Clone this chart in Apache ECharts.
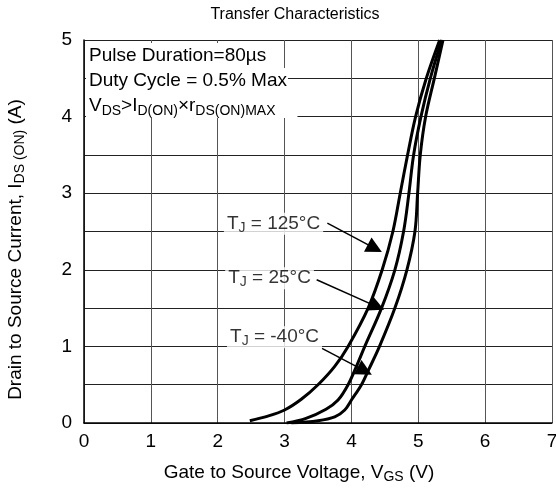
<!DOCTYPE html>
<html><head><meta charset="utf-8">
<script src="https://cdn.jsdelivr.net/npm/echarts@6/dist/echarts.min.js"></script>
<style>html,body{margin:0;padding:0;background:#fff}#c{width:556px;height:491px}</style>
</head><body><div id="c"></div>
<script>
// ---- data ----
const xTicks = [0, 1, 2, 3, 4, 5, 6, 7];
const yTicks = [0, 1, 2, 3, 4, 5];
const tj125 = [[2.48,0.03],[2.75,0.09],[3.0,0.17],[3.25,0.31],[3.5,0.5],[3.75,0.74],[3.95,1.0],[4.25,1.5],[4.46,2.0],[4.62,2.5],[4.73,3.0],[4.84,3.5],[4.96,4.0],[5.12,4.5],[5.32,5.0]];
const tj25 = [[3.03,0.0],[3.32,0.06],[3.62,0.18],[3.8,0.3],[3.95,0.5],[4.08,0.75],[4.2,1.0],[4.45,1.5],[4.65,2.0],[4.78,2.5],[4.86,3.0],[4.93,3.5],[5.04,4.0],[5.18,4.5],[5.35,5.0]];
const tjm40 = [[3.1,0.0],[3.5,0.03],[3.75,0.08],[3.9,0.17],[4.0,0.3],[4.15,0.5],[4.26,0.7],[4.42,1.0],[4.65,1.5],[4.83,2.0],[4.95,2.5],[4.99,3.0],[5.03,3.5],[5.11,4.0],[5.24,4.5],[5.37,5.0]];
const seriesNames = ['125°C', '25°C', '-40°C'];
const labelPos = [[2.835, 2.60], [2.775, 1.89], [2.85, 1.12]];
const arrowFrom = [[3.64, 2.61], [3.48, 1.87], [3.56, 0.975]];
const arrowTo = [[4.35, 2.28], [4.38, 1.52], [4.20, 0.68]];
const boxLines = ['Pulse Duration=80µs', 'Duty Cycle = 0.5% Max', 'V{s|DS}>I{s|D(ON)}×r{s|DS(ON)MAX}'];
const chartTitle = 'Transfer Characteristics';
const xName = 'Gate to Source Voltage, V{s|GS} (V)';
const yName = 'Drain to Source Current, I{s|DS (ON)} (A)';

const FF = 'Liberation Sans, Arial, sans-serif';
const FS = 19;
const rich = {
  s: { fontSize: 14, fontFamily: FF, color: '#000', verticalAlign: 'bottom', lineHeight: 15 }
};

const chart = echarts.init(document.getElementById('c'), null, { renderer: 'canvas' });
const curveSeries = [tj125, tj25, tjm40].map((d, i) => ({
  type: 'line', name: seriesNames[i], data: d, smooth: 0.35, showSymbol: false,
  lineStyle: { color: '#000', width: 3 }, z: 5, silent: true
}));
curveSeries[0].markLine = {
  silent: true, symbol: ['none', 'triangle'], symbolSize: 16,
  lineStyle: { color: '#000', width: 1.5, type: 'solid' }, label: { show: false },
  data: arrowFrom.map((f, i) => [{ coord: f }, { coord: arrowTo[i] }])
};
const labelSeries = {
  type: 'scatter', data: labelPos.map((p, i) => ({ value: p, name: seriesNames[i] })),
  symbolSize: 1, itemStyle: { color: 'rgba(0,0,0,0)' }, silent: true, z: 6,
  label: {
    show: true, position: 'inside', color: '#000', fontSize: FS, fontFamily: FF, lineHeight: 22,
    backgroundColor: '#fff', padding: [0, 3, 0, 3],
    formatter: p => 'T{s|J} = ' + p.name, rich: rich
  }
};

chart.setOption({
  animation: false,
  backgroundColor: '#fff',
  grid: { left: 84, right: 4, top: 40, bottom: 68, containLabel: false, outerBoundsMode: 'none' },
  xAxis: {
    type: 'value', min: xTicks[0], max: xTicks[xTicks.length - 1], interval: 1,
    axisLine: { lineStyle: { color: '#000', width: 1.5 } }, axisTick: { show: false },
    axisLabel: { color: '#000', fontSize: FS, fontFamily: FF, margin: 9 },
    splitLine: { lineStyle: { color: '#555', width: 1 } },
    name: xName, nameLocation: 'middle', nameGap: 39,
    nameTextStyle: { color: '#000', fontSize: FS, fontFamily: FF, lineHeight: 22, padding: [0, 38, 0, 0], rich: rich }
  },
  yAxis: {
    type: 'value', min: yTicks[0], max: yTicks[yTicks.length - 1], interval: 0.5,
    axisLine: { lineStyle: { color: '#000', width: 1.5 } }, axisTick: { show: false },
    axisLabel: { color: '#000', fontSize: FS, fontFamily: FF, margin: 12,
      formatter: v => (yTicks.indexOf(v) >= 0 ? String(v) : '') },
    splitLine: { lineStyle: { color: '#222', width: 1 } },
    name: yName, nameLocation: 'middle', nameGap: 57, nameRotate: 90,
    nameTextStyle: { color: '#000', fontSize: FS, fontFamily: FF, lineHeight: 22, padding: [0, 36, 0, 0], rich: rich }
  },
  graphic: [
    { type: 'text', x: 295, y: 15, z: 100, style: { text: chartTitle, align: 'center', verticalAlign: 'middle', fontSize: 16, fontFamily: FF, fill: '#000' } },
    { type: 'text', x: 86, y: 43, z: 100, style: { text: boxLines[0], fontSize: FS, fontFamily: FF, fill: '#000', lineHeight: 25, backgroundColor: '#fff', padding: [0, 10, 0, 3], rich: rich } },
    { type: 'text', x: 86, y: 68, z: 100, style: { text: boxLines[1], fontSize: FS, fontFamily: FF, fill: '#000', lineHeight: 25, backgroundColor: '#fff', padding: [0, 1, 0, 3], rich: rich } },
    { type: 'text', x: 86, y: 93, z: 100, style: { text: boxLines[2], fontSize: FS, fontFamily: FF, fill: '#000', lineHeight: 25, backgroundColor: '#fff', padding: [0, 22, 0, 3], rich: rich } }
  ],
  series: curveSeries.concat([labelSeries])
});
</script></body></html>
